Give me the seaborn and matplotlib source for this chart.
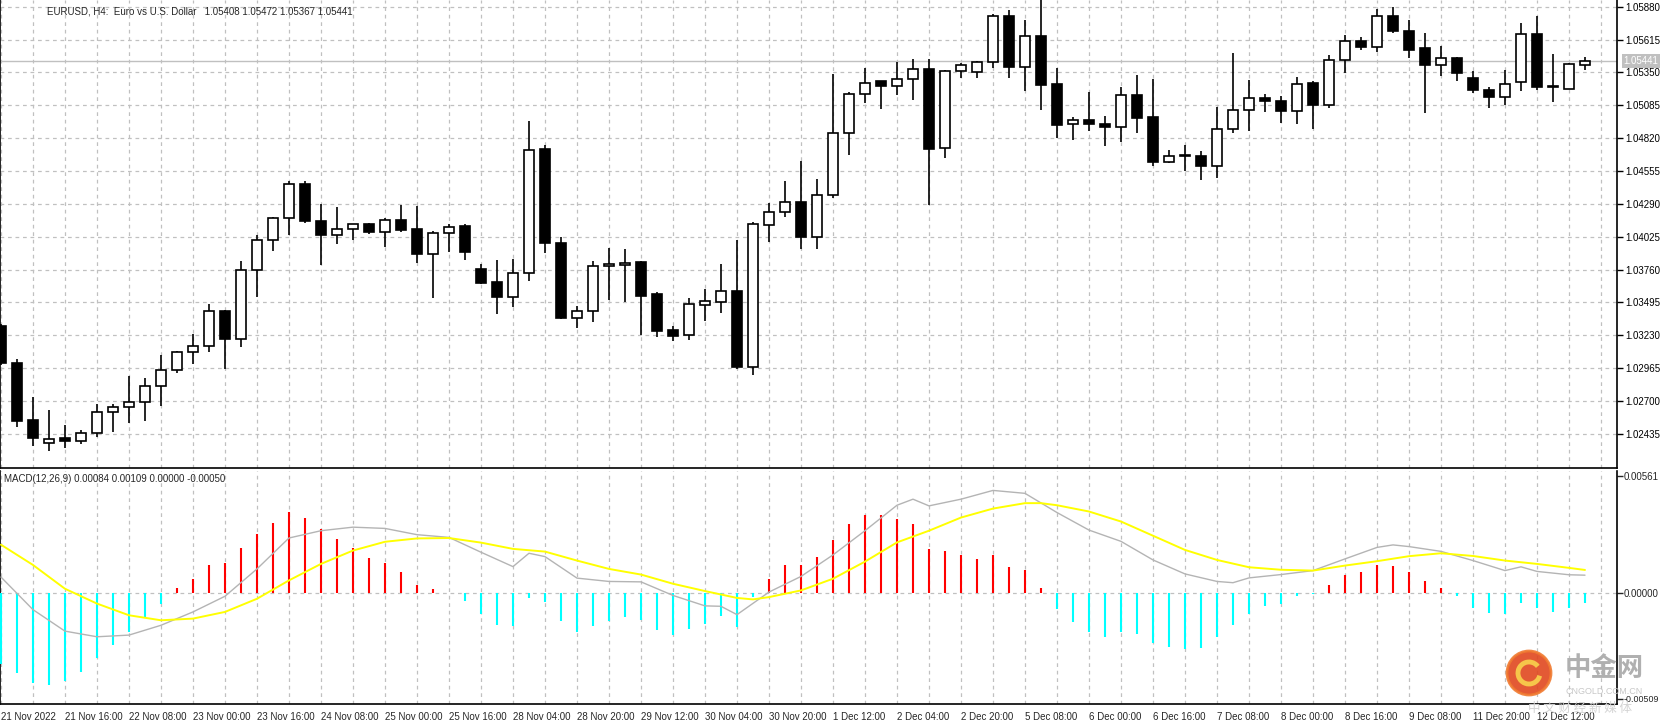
import numpy as np
import pandas as pd
import matplotlib
matplotlib.use("Agg")
import matplotlib.pyplot as plt
from matplotlib.ticker import MultipleLocator, FixedLocator
from matplotlib.patches import Ellipse, Arc
import seaborn as sns

# EURUSD H4 candles
opens = [1.03307,1.03009,1.02546,1.02360,1.02400,1.02380,1.02444,1.02609,1.02651,1.02692,
         1.02824,1.02949,1.03098,1.03147,1.03429,1.03197,1.03760,1.04000,1.04174,1.04447,
         1.04149,1.04039,1.04086,1.04125,1.04061,1.04158,1.04083,1.03887,1.04055,1.04108,
         1.03768,1.03661,1.03539,1.03733,1.04729,1.03975,1.03368,1.03426,1.03785,1.03793,
         1.03818,1.03561,1.03274,1.03230,1.03476,1.03501,1.03588,1.02970,1.04122,1.04221,
         1.04307,1.04025,1.04365,1.04861,1.05176,1.05278,1.05242,1.05295,1.05378,1.04740,
         1.05361,1.05350,1.05436,1.05808,1.05394,1.05643,1.05253,1.04931,1.04964,1.04933,
         1.04906,1.05171,1.04991,1.04630,1.04677,1.04677,1.04597,1.04895,1.05044,1.05146,
         1.05121,1.05035,1.05262,1.05085,1.05452,1.05604,1.05557,1.05808,1.05687,1.05543,
         1.05411,1.05469,1.05303,1.05212,1.05154,1.05270,1.05659,1.05237,1.05220,1.05408]
highs = [1.03320,1.03037,1.02728,1.02628,1.02507,1.02463,1.02678,1.02678,1.02905,1.02885,
         1.03073,1.03100,1.03238,1.03481,1.03430,1.03832,1.04042,1.04185,1.04472,1.04475,
         1.04285,1.04265,1.04130,1.04133,1.04174,1.04282,1.04271,1.04069,1.04130,1.04130,
         1.03802,1.03837,1.03846,1.04961,1.04762,1.04020,1.03462,1.03829,1.03937,1.03929,
         1.03832,1.03578,1.03307,1.03528,1.03606,1.03804,1.03999,1.04141,1.04293,1.04475,
         1.04632,1.04492,1.05336,1.05193,1.05386,1.05283,1.05430,1.05458,1.05458,1.05367,
         1.05422,1.05444,1.05825,1.05852,1.05775,1.05949,1.05383,1.04989,1.05190,1.04999,
         1.05229,1.05331,1.05300,1.04724,1.04765,1.04715,1.05074,1.05505,1.05289,1.05173,
         1.05160,1.05314,1.05278,1.05494,1.05651,1.05632,1.05858,1.05880,1.05775,1.05670,
         1.05560,1.05477,1.05361,1.05234,1.05369,1.05745,1.05803,1.05502,1.05425,1.05472]
lows = [1.02990,1.02493,1.02340,1.02300,1.02320,1.02350,1.02408,1.02452,1.02524,1.02535,
        1.02656,1.02929,1.02996,1.03095,1.02954,1.03136,1.03542,1.03906,1.04039,1.04138,
        1.03796,1.03967,1.04000,1.04044,1.03945,1.04061,1.03813,1.03531,1.03904,1.03837,
        1.03644,1.03399,1.03459,1.03664,1.03893,1.03357,1.03288,1.03335,1.03515,1.03498,
        1.03230,1.03219,1.03183,1.03192,1.03341,1.03410,1.02960,1.02910,1.03978,1.04183,
        1.03929,1.03923,1.04337,1.04685,1.05107,1.05052,1.05168,1.05127,1.04280,1.04663,
        1.05306,1.05306,1.05389,1.05306,1.05198,1.05044,1.04823,1.04804,1.04878,1.04754,
        1.04790,1.04862,1.04597,1.04622,1.04555,1.04483,1.04500,1.04859,1.04878,1.05027,
        1.04944,1.04936,1.04897,1.05063,1.05342,1.05527,1.05516,1.05665,1.05466,1.05019,
        1.05317,1.05284,1.05184,1.05060,1.05085,1.05201,1.05209,1.05110,1.05218,1.05367]
closes = [1.03004,1.02540,1.02400,1.02390,1.02380,1.02444,1.02609,1.02651,1.02692,1.02824,
          1.02949,1.03098,1.03147,1.03429,1.03197,1.03760,1.04000,1.04174,1.04447,1.04152,
          1.04036,1.04089,1.04125,1.04061,1.04158,1.04078,1.03887,1.04058,1.04105,1.03904,
          1.03655,1.03539,1.03733,1.04726,1.03970,1.03365,1.03426,1.03785,1.03802,1.03815,
          1.03550,1.03266,1.03225,1.03479,1.03504,1.03586,1.02970,1.04125,1.04224,1.04307,
          1.04022,1.04365,1.04861,1.05176,1.05267,1.05242,1.05295,1.05378,1.04729,1.05361,
          1.05411,1.05436,1.05808,1.05391,1.05643,1.05251,1.04928,1.04964,1.04931,1.04906,
          1.05171,1.04986,1.04630,1.04674,1.04677,1.04597,1.04897,1.05046,1.05146,1.05118,
          1.05035,1.05259,1.05085,1.05452,1.05601,1.05557,1.05808,1.05681,1.05532,1.05408,
          1.05469,1.05342,1.05209,1.05154,1.05259,1.05656,1.05234,1.05229,1.05419,1.05441]

# MACD histogram per bar
hist = [-0.00340,-0.00383,-0.00433,-0.00441,-0.00421,-0.00378,-0.00311,-0.00249,-0.00189,-0.00121,
        -0.00056,0.00021,0.00068,0.00135,0.00140,0.00216,0.00283,0.00335,0.00387,0.00359,
        0.00306,0.00259,0.00214,0.00168,0.00140,0.00097,0.00035,0.00016,0.0,-0.00040,
        -0.00102,-0.00156,-0.00159,-0.00025,-0.00044,-0.00137,-0.00187,-0.00159,-0.00137,-0.00117,
        -0.00130,-0.00178,-0.00203,-0.00175,-0.00152,-0.00111,-0.00163,-0.00020,0.00068,0.00135,
        0.00135,0.00173,0.00254,0.00330,0.00373,0.00373,0.00354,0.00330,0.00211,0.00202,
        0.00183,0.00163,0.00183,0.00121,0.00108,0.00025,-0.00079,-0.00141,-0.00187,-0.00211,
        -0.00187,-0.00197,-0.00243,-0.00259,-0.00270,-0.00263,-0.00214,-0.00154,-0.00100,-0.00063,
        -0.00054,-0.00016,-0.00005,0.00035,0.00083,0.00097,0.00135,0.00130,0.00097,0.00054,
        0.00025,-0.00016,-0.00071,-0.00097,-0.00102,-0.00049,-0.00071,-0.00092,-0.00071,-0.00050]

# gray main line, sampled bars
gray_bar = [0,2,4,6,8,10,12,14,16,18,20,22,24,26,28,30,32,33,34,36,38,40,42,44,45,46,48,50,
            52,54,56,57,58,60,62,64,66,68,70,72,74,76,77,78,80,82,84,86,87,88,90,92,94,95,96,98,99]
gray_val = [0.00075,-0.00081,-0.00184,-0.00211,-0.00203,-0.00156,-0.00092,-0.00017,0.00114,0.00262,
            0.00297,0.00314,0.00308,0.00278,0.00265,0.00194,0.00125,0.00189,0.00173,0.00070,
            0.00054,0.00052,-0.00013,-0.00063,-0.00065,-0.00105,0.00003,0.00078,0.00181,0.00297,
            0.00419,0.00448,0.00416,0.00448,0.00490,0.00476,0.00384,0.00300,0.00246,0.00157,
            0.00090,0.00054,0.00048,0.00071,0.00087,0.00106,0.00162,0.00217,0.00229,0.00221,
            0.00198,0.00154,0.00106,0.00124,0.00102,0.00086,0.00084]
# yellow signal line, sampled bars
sig_bar = [0,2,4,6,8,10,12,14,16,18,20,22,24,26,28,30,32,34,36,38,40,42,44,46,47,48,50,52,54,
           56,58,60,62,64,65,66,68,70,72,74,76,78,80,82,84,86,88,90,92,94,96,98,99]
sig_val = [0.00230,0.00133,0.00019,-0.00052,-0.00108,-0.00132,-0.00124,-0.00092,-0.00029,0.00059,
           0.00138,0.00202,0.00244,0.00260,0.00262,0.00240,0.00210,0.00197,0.00154,0.00114,
           0.00087,0.00043,0.00008,-0.00025,-0.00032,-0.00021,0.00011,0.00067,0.00149,0.00241,
           0.00297,0.00360,0.00403,0.00429,0.00429,0.00419,0.00389,0.00341,0.00273,0.00205,
           0.00157,0.00122,0.00110,0.00106,0.00130,0.00151,0.00175,0.00189,0.00176,0.00154,
           0.00138,0.00119,0.00109]

price_ticks = [1.05880,1.05615,1.05350,1.05085,1.04820,1.04555,1.04290,1.04025,
               1.03760,1.03495,1.03230,1.02965,1.02700,1.02435]
date_labels = ["21 Nov 2022","21 Nov 16:00","22 Nov 08:00","23 Nov 00:00","23 Nov 16:00",
               "24 Nov 08:00","25 Nov 00:00","25 Nov 16:00","28 Nov 04:00","28 Nov 20:00",
               "29 Nov 12:00","30 Nov 04:00","30 Nov 20:00","1 Dec 12:00","2 Dec 04:00",
               "2 Dec 20:00","5 Dec 08:00","6 Dec 00:00","6 Dec 16:00","7 Dec 08:00",
               "8 Dec 00:00","8 Dec 16:00","9 Dec 08:00","11 Dec 20:00","12 Dec 12:00"]
last_price = 1.05441

sns.set_style("white")
plt.rcParams['font.family'] = ['Liberation Sans', 'DejaVu Sans', 'Noto Sans CJK SC']
FS = 7

df = pd.DataFrame({"open": opens, "high": highs, "low": lows, "close": closes})
df["bar"] = np.arange(len(df))
df["up"] = df["close"] >= df["open"]

fig = plt.figure(figsize=(16.6, 7.23), dpi=100)
W, H = 1660, 723
ax = fig.add_axes([0, 1 - 468 / H, 1617 / W, 468 / H])
mx = fig.add_axes([0, 1 - 704 / H, 1617 / W, (704 - 471) / H])

grid_kw = dict(color="#c0c0c0", linestyle=(0, (3, 3)), linewidth=0.9)

# candles
ax.vlines(df["bar"], df["low"], df["high"], color="black", linewidth=1.2, zorder=3)
body_lo = np.minimum(df["open"], df["close"])
body_h = np.maximum(np.abs(df["close"] - df["open"]), 0.00004)
ax.bar(df["bar"], body_h, bottom=body_lo, width=0.62,
       color=np.where(df["up"], "white", "black"), edgecolor="black", linewidth=1.2, zorder=4)
ax.axhline(last_price, color="#c0c0c0", linewidth=1, zorder=2)

ax.set_xlim(-0.06, 101)
ax.set_ylim(1.02159, 1.05934)
ax.yaxis.tick_right()
ax.set_yticks(price_ticks)
ax.set_yticklabels([f"{p:.5f}" for p in price_ticks], fontsize=FS)
ax.tick_params(axis="y", direction="out", length=4, width=1, pad=2, colors="black")
ax.set_xticks([])
ax.xaxis.set_minor_locator(MultipleLocator(2))
ax.grid(True, which="minor", axis="x", **grid_kw)
ax.grid(True, which="major", axis="y", **grid_kw)
ax.spines["top"].set_visible(False)
for s in ["left", "right", "bottom"]:
    ax.spines[s].set_color("black")
    ax.spines[s].set_linewidth(1.2)
ax.text(1.004, last_price, f"{last_price:.5f}", transform=ax.get_yaxis_transform(),
        fontsize=FS, color="white", va="center", ha="left",
        bbox=dict(facecolor="#c0c0c0", edgecolor="none", pad=1.2), zorder=10, clip_on=False)

# MACD panel
hx = np.arange(len(hist))
hv = np.array(hist)
mx.vlines(hx[hv > 0], 0, hv[hv > 0], color="#ff0000", linewidth=1.5, zorder=3)
mx.vlines(hx[hv < 0], 0, hv[hv < 0], color="#00ffff", linewidth=1.5, zorder=3)
sns.lineplot(x=gray_bar, y=gray_val, ax=mx, color="#b4b4b4", linewidth=1.0, zorder=4)
sns.lineplot(x=sig_bar, y=sig_val, ax=mx, color="#ffff00", linewidth=1.4, zorder=5)
mx.axhline(0, **grid_kw)
mx.set_xlim(-0.06, 101)
mx.set_ylim(-0.00533, 0.00583)
mx.yaxis.tick_right()
mx.set_yticks([0.00561, 0.0, -0.00509])
mx.set_yticklabels(["0.00561", "0.00000", "-0.00509"], fontsize=FS)
mx.get_yticklabels()[2].set_fontsize(6.4)
mx.tick_params(axis="y", direction="out", length=4, width=1, pad=1)
label_pos = np.arange(0, 4 * len(date_labels), 4)
mx.xaxis.set_major_locator(FixedLocator(label_pos))
mx.set_xticklabels(date_labels, fontsize=FS, ha="left")
mx.tick_params(axis="x", direction="out", length=4, width=1, pad=2)
mx.xaxis.set_minor_locator(MultipleLocator(2))
mx.grid(True, which="minor", axis="x", **grid_kw)
mx.grid(True, which="major", axis="x", **grid_kw)
mx.spines["top"].set_visible(False)
for s in ["left", "right", "bottom"]:
    mx.spines[s].set_color("black")
    mx.spines[s].set_linewidth(1.2)
mx.set_xlabel("")
mx.set_ylabel("")

# headers
fig.text(47 / W, 1 - 11 / H, "EURUSD, H4:  Euro vs U.S. Dollar   1.05408 1.05472 1.05367 1.05441",
         fontsize=FS, va="center", ha="left")
fig.text(4 / W, 1 - 479 / H, "MACD(12,26,9) 0.00084 0.00109 0.00000 -0.00050",
         fontsize=FS, va="center", ha="left")

# watermark
cx, cy = 1529 / W, 1 - 673 / H
fig.patches.append(Ellipse((cx, cy), 44 / W, 44 / H, transform=fig.transFigure,
                           facecolor="#e0481f", edgecolor="#f07a30", linewidth=2, alpha=0.9, zorder=20))
fig.patches.append(Arc((cx, cy), 22 / W, 22 / H, theta1=60, theta2=330, transform=fig.transFigure,
                       color="#f6c64a", linewidth=3.5, zorder=21))
fig.text(1604 / W, 1 - 668 / H, "中金网", fontsize=19, color="#b0b0b0", fontweight="bold",
         ha="center", va="center", family=['Noto Sans CJK SC'], zorder=21)
fig.text(1604 / W, 1 - 692 / H, "CNGOLD.COM.CN", fontsize=6.5, color="#c8c8c8",
         ha="center", va="center", zorder=21)
fig.text(1580 / W, 1 - 708 / H, "中 文 财 经 新 媒 体", fontsize=9, color="#d4d4d4",
         ha="center", va="center", family=['Noto Sans CJK SC'], zorder=21)

fig.savefig("out.png", dpi=100)
